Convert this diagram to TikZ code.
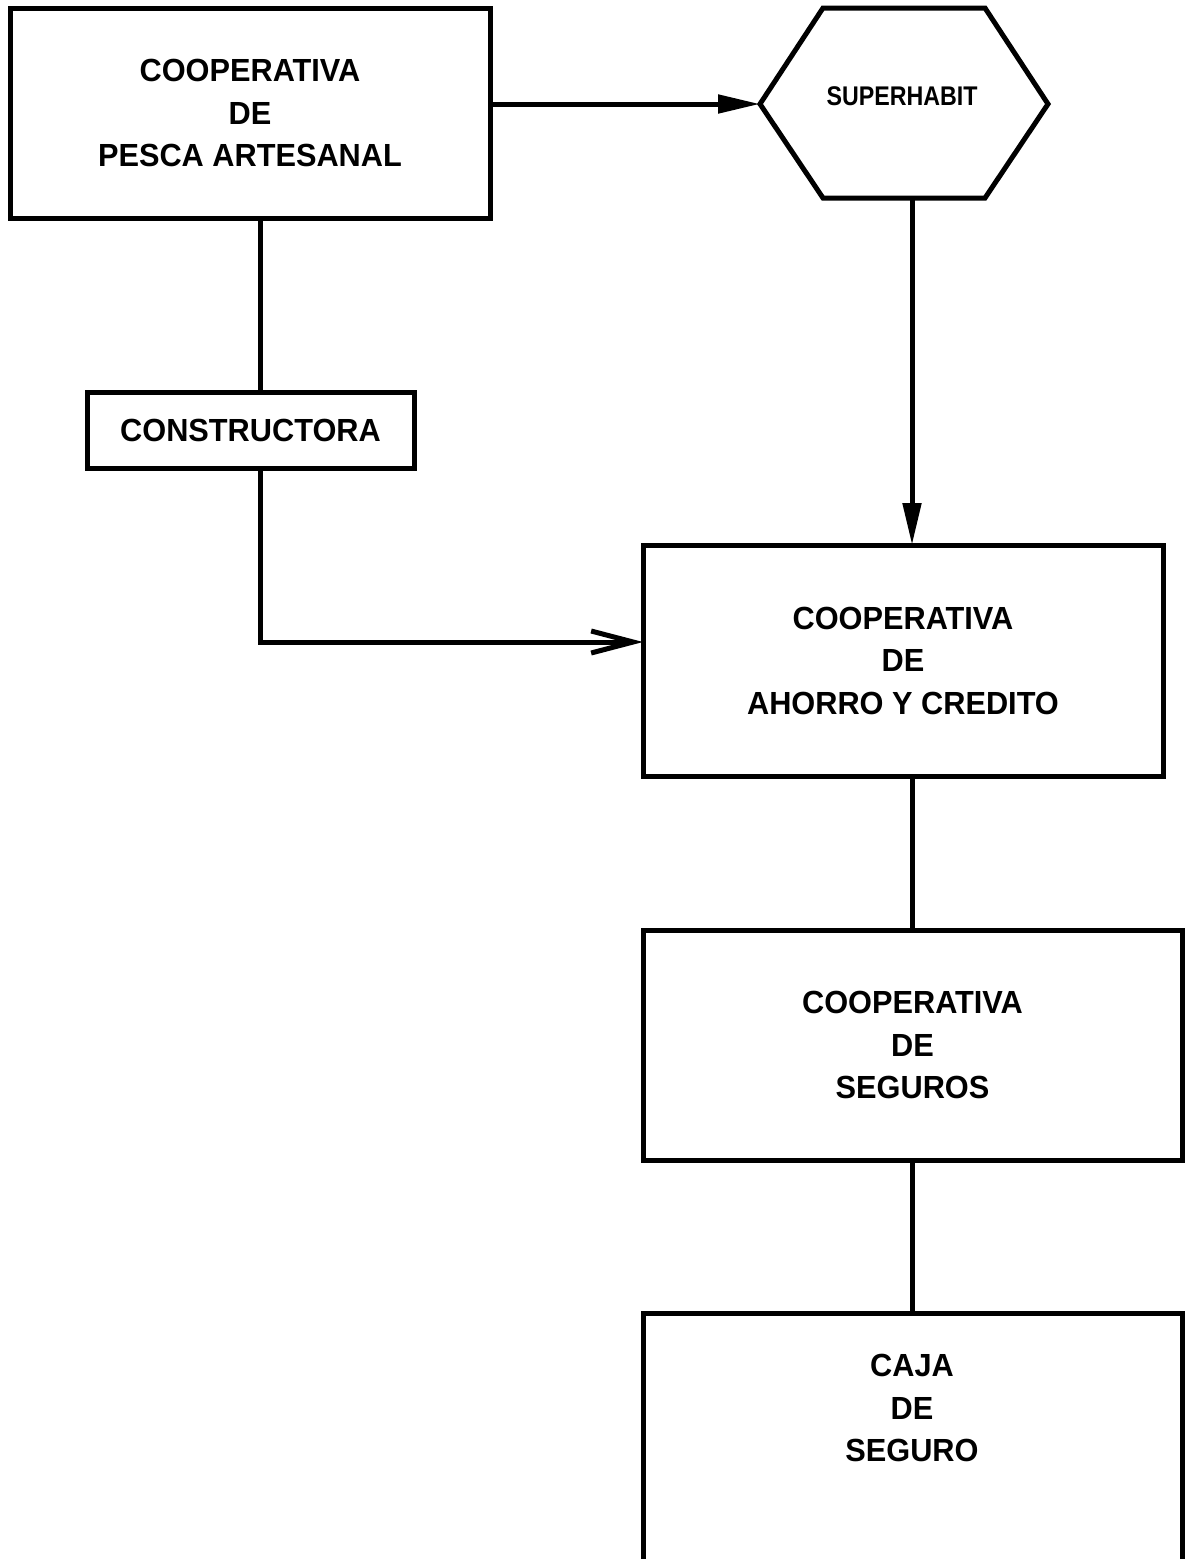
\documentclass[tikz,border=0pt]{standalone}
\usepackage{fontspec}
\setmainfont{Liberation Sans}
\newfontfamily\narrowfont[FakeStretch=0.86]{Liberation Sans}
\newfontfamily\boxfont[FakeStretch=0.96]{Liberation Sans}
\usetikzlibrary{arrows.meta}
\begin{document}
\begin{tikzpicture}[x=1pt,y=-1pt,
  line width=5pt,
  box/.style={draw,rectangle,inner sep=0pt,outer sep=0pt,align=center,
    font=\boxfont\bfseries\fontsize{32}{42.5}\selectfont},
  lbl/.style={inner sep=0pt,align=center,font=\boxfont\bfseries\fontsize{32}{42.5}\selectfont},
  fillarrow/.style={-{Triangle[length=42pt,width=18pt]}},
  openarrow/.style={-{Straight Barb[length=42pt,width=22pt,line width=5pt]}}
]
\useasboundingbox (0,0) rectangle (1187,1559);
\node[box,minimum width=480pt,minimum height=210pt] (b1) at (250,113)
  {COOPERATIVA\\DE\\PESCA ARTESANAL};
\node[box,minimum width=327pt,minimum height=76pt] (c) at (250.5,430)
  {CONSTRUCTORA};
\node[box,minimum width=520pt,minimum height=231pt] (b2) at (903,660.5)
  {COOPERATIVA\\DE\\AHORRO Y CREDITO};
\node[box,minimum width=539pt,minimum height=230pt] (b3) at (912.5,1045)
  {COOPERATIVA\\DE\\SEGUROS};
\node[box,minimum width=539pt,minimum height=300pt] (b4) at (912.5,1463) {};
\node[lbl] (t4) at (912,1408) {CAJA\\DE\\SEGURO};
% hexagon
\coordinate (hl) at (760,104);
\coordinate (htl) at (823,8);
\coordinate (htr) at (985,8);
\coordinate (hr) at (1048,104);
\coordinate (hbr) at (985,198);
\coordinate (hbl) at (823,198);
\draw[line join=miter] (hl) -- (htl) -- (htr) -- (hr) -- (hbr) -- (hbl) -- cycle;
\node[inner sep=0pt,font=\narrowfont\bfseries\fontsize{27}{30}\selectfont] (sup) at (902,96) {SUPERHABIT};
\coordinate (hb) at (912,198);
% connectors
\draw[fillarrow] (b1.east |- hl) -- (hl);
\draw[fillarrow] (hb) -- (hb |- b2.north);
\draw (c.north -| 260,0) -- (b1.south -| 260,0);
\coordinate (corner) at (260,642);
\draw[openarrow] (c.south -| corner) -- (corner) -- (corner -| b2.west);
\draw (b2.south -| hb) -- (b3.north -| hb);
\draw (b3.south -| hb) -- (b4.north -| hb);
\end{tikzpicture}
\end{document}
